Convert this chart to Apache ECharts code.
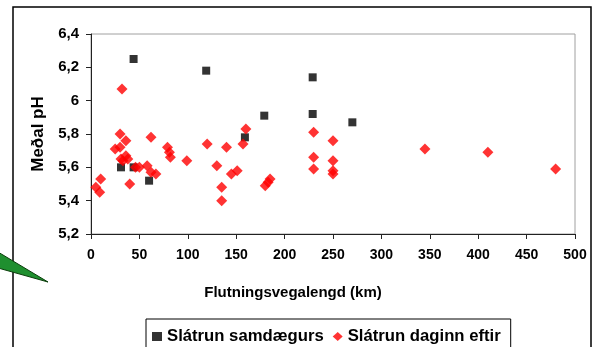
<!DOCTYPE html>
<html>
<head>
<meta charset="utf-8">
<title>Meðal pH</title>
<script src="https://cdn.jsdelivr.net/npm/echarts@6/dist/echarts.min.js"></script>
<style>
html, body { margin: 0; padding: 0; background: #fff; }
#chart { width: 593px; height: 347px; }
</style>
</head>
<body>
<div id="chart"></div>
<script>
/* Slátrun samdægurs: flutningsvegalengd (km) og meðal pH */
var sameDayKm = [44, 119, 229, 229, 179, 159, 31, 44, 60, 270];
var sameDayPh = [6.25, 6.18, 6.14, 5.92, 5.91, 5.78, 5.60, 5.60, 5.52, 5.87];

/* Slátrun daginn eftir */
var nextDayKm = [5, 9, 10, 25, 30, 30, 32, 36, 31, 36, 38, 33, 40, 46, 50, 58, 62, 62, 67,
    79, 81, 82, 99, 120, 130, 135, 135, 140, 145, 151, 157, 160, 180, 183, 185,
    230, 230, 230, 250, 250, 250, 250, 345, 410, 480];
var nextDayPh = [5.48, 5.45, 5.53, 5.71, 5.72, 5.80, 6.07, 5.76, 5.65, 5.67, 5.65, 5.64, 5.50, 5.60, 5.60, 5.61, 5.78, 5.57, 5.56,
    5.72, 5.69, 5.66, 5.64, 5.74, 5.61, 5.48, 5.40, 5.72, 5.56, 5.58, 5.74, 5.83, 5.49, 5.51, 5.53,
    5.81, 5.66, 5.59, 5.76, 5.64, 5.58, 5.56, 5.71, 5.69, 5.59];

var seriesNames = ['Slátrun samdægurs', 'Slátrun daginn eftir'];
var xTitle = 'Flutningsvegalengd (km)';
var yTitle = 'Meðal pH';

function pairs(xs, ys) {
    var out = [];
    for (var i = 0; i < xs.length; i++) {
        out.push([xs[i], ys[i]]);
    }
    return out;
}

var font = "'Liberation Sans', Arial, sans-serif";
var chart = echarts.init(document.getElementById('chart'), null, { renderer: 'canvas' });

var option = {
    backgroundColor: '#fff',
    animation: false,
    grid: {
        left: 91,
        top: 34,
        width: 484,
        height: 200,
        show: true,
        borderColor: '#a0a0a0',
        borderWidth: 1,
        backgroundColor: '#fff'
    },
    graphic: [
        {   // ramminn utan um myndina
            type: 'rect',
            shape: { x: 13, y: 7, width: 578, height: 360 },
            style: { fill: 'none', stroke: '#000', lineWidth: 1.5 },
            z: 0
        },
        {   // græni þríhyrningurinn til vinstri
            type: 'polygon',
            shape: { points: [[-2, 252], [48, 282], [-2, 268]] },
            style: { fill: '#1f8f2f', stroke: '#0b3d0b', lineWidth: 1 },
            z: 10
        }
    ],
    legend: {
        left: 146,
        top: 319,
        data: seriesNames,
        orient: 'horizontal',
        borderColor: '#000',
        borderWidth: 1,
        padding: [9, 10, 20, 6],
        itemGap: 9,
        itemWidth: 10,
        itemHeight: 9,
        textStyle: { fontFamily: font, fontWeight: 'bold', fontSize: 16.7, color: '#000' }
    },
    xAxis: {
        type: 'value',
        min: 0,
        max: 500,
        interval: 50,
        name: xTitle,
        nameLocation: 'middle',
        nameGap: 51,
        nameTextStyle: { fontFamily: font, fontWeight: 'bold', fontSize: 15, color: '#000', padding: [0, 80, 0, 0] },
        axisLine: { show: true, lineStyle: { color: '#222', width: 1 } },
        axisTick: { show: true, inside: false, length: 5, lineStyle: { color: '#222' } },
        axisLabel: { margin: 14, fontFamily: font, fontWeight: 'bold', fontSize: 14, color: '#000' },
        splitLine: { show: false }
    },
    yAxis: {
        type: 'value',
        min: 5.2,
        max: 6.4,
        interval: 0.2,
        name: yTitle,
        nameLocation: 'middle',
        nameGap: 43,
        nameRotate: 90,
        nameTextStyle: { fontFamily: font, fontWeight: 'bold', fontSize: 17, color: '#000' },
        axisLine: { show: true, lineStyle: { color: '#222', width: 1 } },
        axisTick: { show: true, inside: false, length: 5, lineStyle: { color: '#222' } },
        axisLabel: {
            margin: 12,
            fontFamily: font, fontWeight: 'bold', fontSize: 15, color: '#000',
            formatter: function (v) {
                return String(Math.round(v * 10) / 10).replace('.', ',');
            }
        },
        splitLine: { show: false }
    },
    series: [
        {
            name: seriesNames[0],
            type: 'scatter',
            symbol: 'rect',
            symbolSize: 8,
            itemStyle: { color: '#000' },
            data: pairs(sameDayKm, sameDayPh)
        },
        {
            name: seriesNames[1],
            type: 'scatter',
            symbol: 'diamond',
            symbolSize: 11,
            itemStyle: { color: '#ff0000' },
            data: pairs(nextDayKm, nextDayPh)
        }
    ]
};

chart.setOption(option, true);
</script>
</body>
</html>
